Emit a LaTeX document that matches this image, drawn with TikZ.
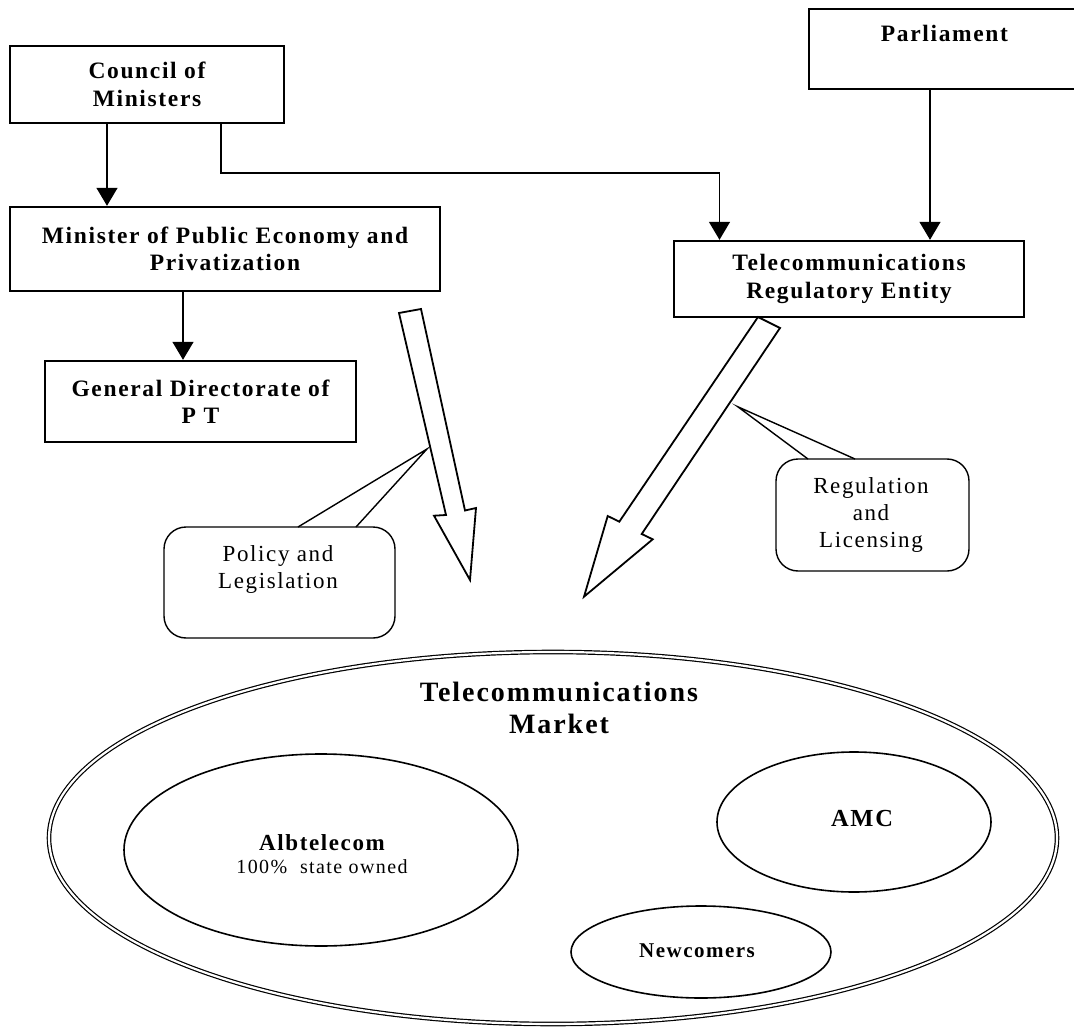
\documentclass[tikz,border=0pt]{standalone}
\usepackage{fontspec}
\setmainfont{Liberation Serif}[LetterSpace=7]
\usetikzlibrary{arrows.meta,shapes.geometric}
\begin{document}
\begin{tikzpicture}[x=1pt,y=-1pt,
  box/.style={draw, line width=2.4pt, inner sep=0pt, align=center, font=\fontsize{23.5}{27.5}\selectfont\bfseries},
  conn/.style={line width=1.4pt, -{Triangle[width=21pt,length=18pt]}},
  blockarrow/.style={draw, line width=1.8pt, fill=white, line join=miter},
  callbox/.style={draw, line width=1.4pt, rounded corners=22pt, inner sep=0pt},
  pointer/.style={line width=1.4pt, line join=miter},
  calltext/.style={align=center, inner sep=0pt, font=\fontsize{23}{27}\selectfont},
  oval/.style={draw, ellipse, line width=1.6pt, inner sep=0pt},
  label/.style={inner sep=0pt, align=center}
]
\useasboundingbox (0,0) rectangle (1074,1027);

% boxes
\node[box, minimum width=274pt, minimum height=77pt] (council) at (147,84.5) {Council of\\Ministers};
\node[box, minimum width=271pt, minimum height=80pt] (parliament) at (944.5,49) {};
\node[label, anchor=base, font=\fontsize{23.5}{27.5}\selectfont\bfseries] (parltext) at (944.5,42) {Parliament};
\node[box, minimum width=430pt, minimum height=84pt] (minister) at (225,249) {Minister of Public Economy and\\Privatization};
\node[box, minimum width=311pt, minimum height=81pt] (gd) at (200.5,401.5) {General Directorate of\\P T};
\node[box, minimum width=350pt, minimum height=76pt] (tre) at (849,279) {Telecommunications\\Regulatory Entity};

% connectors
\coordinate (c1) at ([xshift=-40pt]council.south);
\draw[conn] (c1) -- (c1 |- minister.north);
\coordinate (m1) at ([xshift=-42pt]minister.south);
\draw[conn] (m1) -- (m1 |- gd.north);
\coordinate (c2) at ([xshift=74pt]council.south);
\coordinate (bend) at (719.5,173);
\draw[conn] (c2) |- (bend) -- (bend |- tre.north);
\coordinate (p1) at ([xshift=-14.5pt]parliament.south);
\draw[conn] (p1) -- (p1 |- tre.north);

% block arrows
\draw[blockarrow] (399,313) -- (421,309) -- (465,510.5) -- (476,508) -- (470,580) -- (434,515.7) -- (446,515) -- cycle;
\draw[blockarrow] (758,317) -- (780,328) -- (641.7,534) -- (652.7,539.3) -- (584,596.7) -- (607.7,516) -- (619.3,521.7) -- cycle;

% callout 1
\node[callbox, minimum width=231pt, minimum height=111pt] (cb1) at (279.5,582.5) {};
\coordinate (cb1a) at (298,527);
\coordinate (cb1tip) at (427,449);
\coordinate (cb1b) at (356,527);
\fill[white] ([yshift=1.8pt]cb1a) -- (cb1tip) -- ([yshift=1.8pt]cb1b) -- cycle;
\draw[pointer] (cb1a) -- (cb1tip) -- (cb1b);
\node[calltext] (cbt1) at (278,569.2) {Policy and\\Legislation};

% callout 2
\node[callbox, minimum width=193pt, minimum height=112pt] (cb2) at (872.5,515) {};
\coordinate (cb2a) at (808,459);
\coordinate (cb2tip) at (737.7,406.7);
\coordinate (cb2b) at (855,459);
\fill[white] ([yshift=1.8pt]cb2a) -- (cb2tip) -- ([yshift=1.8pt]cb2b) -- cycle;
\draw[pointer] (cb2a) -- (cb2tip) -- (cb2b);
\node[calltext] (cbt2) at (871,514.7) {Regulation\\and\\Licensing};

% market
\node[draw, ellipse, double, double distance=2.2pt, line width=1.2pt, inner sep=0pt, minimum width=1008pt, minimum height=372pt] (market) at (553,838) {};
\node[label, font=\fontsize{28}{32}\selectfont\bfseries] (markett) at (559,708) {Telecommunications\\Market};
\node[oval, minimum width=394pt, minimum height=192pt] (albt) at (321,850) {};
\node[oval, minimum width=274pt, minimum height=140pt] (amc) at (854,822) {};
\node[oval, minimum width=260pt, minimum height=92pt] (newc) at (701,952) {};
\node[label, font=\fontsize{20}{23}\selectfont] (albtt) at (322,854) {{\fontsize{23}{23}\selectfont\bfseries Albtelecom}\\100\%\ \ state owned};
\node[label, font=\fontsize{24.5}{26}\selectfont\bfseries] (amct) at (862,818.7) {AMC};
\node[label, font=\fontsize{21}{23}\selectfont\bfseries] (newct) at (697,950.5) {Newcomers};
\end{tikzpicture}
\end{document}
